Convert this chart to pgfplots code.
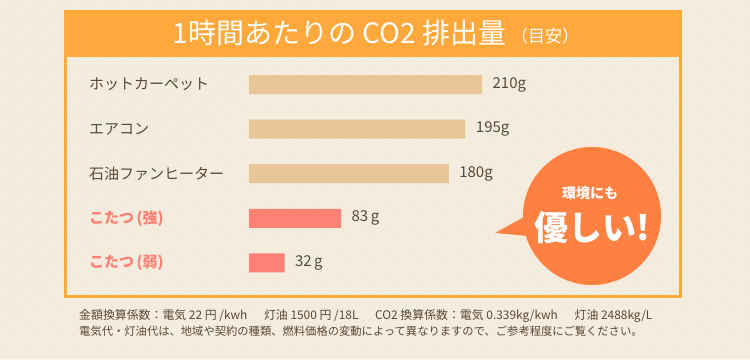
\documentclass[border=0pt]{standalone}
\usepackage{pgfplots}
\pgfplotsset{compat=1.18}
\usepackage{fontspec}
\setmainfont{Noto Sans CJK JP}
\usetikzlibrary{patterns}
\definecolor{bgc}{HTML}{F7F0E4}
\definecolor{hatch}{HTML}{EFE4D2}
\definecolor{orng}{HTML}{FFA83B}
\definecolor{tan}{HTML}{E8C698}
\definecolor{kred}{HTML}{FF8176}
\definecolor{bub}{HTML}{FF8142}
\definecolor{txt}{HTML}{5A4838}
\begin{document}
\begin{tikzpicture}[x=1pt,y=-1pt]
% background
\fill[bgc] (0,0) rectangle (750,359);
\fill[pattern=north west lines, pattern color=hatch] (0,0) rectangle (750,359);
% box
\draw[orng, line width=3pt] (65.5,11.5) rectangle (680.5,296.5);
\fill[orng] (64,10) rectangle (682,57);
\node[text=white, font=\fontsize{28}{28}\selectfont] at (376,33) {1時間あたりの CO2 排出量\,\raisebox{1pt}{\fontsize{17}{17}\selectfont（目安）}};
% data
\begin{axis}[
  at={(249pt,-62.2pt)}, anchor=north west,
  x=1.11pt, y=44.6pt, y dir=reverse,
  xmin=0, xmax=215, ymin=-0.5, ymax=4.5,
  xbar, bar width=19pt, bar shift=0pt,
  clip=false,
  axis line style={draw=none}, major tick length=0pt,
  xtick=\empty,
  ytick={0,1,2,3,4},
  yticklabels={ホットカーペット,エアコン,石油ファンヒーター,{\color{kred}\bfseries こたつ\,(強)},{\color{kred}\bfseries こたつ\,(弱)}},
  yticklabel style={anchor=west, xshift=-160pt, inner sep=0pt, font=\fontsize{15}{15}\selectfont, text=txt},
  /pgf/number format/assume math mode=true,
  nodes near coords align=horizontal,
  every node near coord/.style={anchor=west, xshift=7pt, font=\fontsize{15}{15}\selectfont, text=txt},
]
\addplot[fill=tan, draw=none, nodes near coords={\pgfmathprintnumber{\pgfplotspointmeta}g}] coordinates {(210,0) (195,1) (180,2)};
\addplot[fill=kred, draw=none, nodes near coords={\pgfmathprintnumber{\pgfplotspointmeta}\,g}] coordinates {(83,3) (32,4)};
\end{axis}
% bubble
\fill[bub] (495,233) -- (524,217) -- (528,236) -- cycle;
\fill[bub] (592,216) circle (69);
\node[text=white, font=\bfseries\fontsize{14}{14}\selectfont] at (590,193) {環境にも};
\node[text=white, font=\bfseries\fontsize{34}{34}\selectfont] at (592,228) {優しい\textit{!}};
% footnote
\node[anchor=west, text=txt, font=\fontsize{11.9}{11.9}\selectfont, inner sep=0pt] at (79,316) {金額換算係数：電気 22 円 /kwh\hspace{1.4em}灯油 1500 円 /18L\hspace{1.4em}CO2 換算係数：電気 0.339kg/kwh\hspace{1.4em}灯油 2488kg/L};
\node[anchor=west, text=txt, font=\fontsize{11.3}{11.3}\selectfont, inner sep=0pt] at (79,331) {電気代・灯油代は、地域や契約の種類、燃料価格の変動によって異なりますので、ご参考程度にご覧ください。};
\end{tikzpicture}
\end{document}
